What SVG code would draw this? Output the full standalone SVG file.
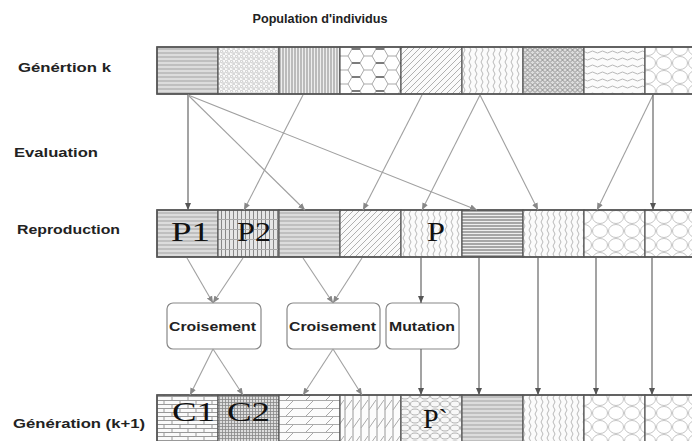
<svg xmlns="http://www.w3.org/2000/svg" width="692" height="441" viewBox="0 0 692 441">
<style>
.lbl{font-family:"Liberation Sans",Arial,sans-serif;font-weight:bold;font-size:13.5px;fill:#222}
.big{font-family:"Liberation Serif","Times New Roman",serif;font-size:27px;fill:#111}
.cell{stroke:#555;stroke-width:1.2}
.row{fill:none;stroke:#555;stroke-width:1.6}
.box{fill:#fff;stroke:#888;stroke-width:1.2}
.c{stroke:#a0a0a0;stroke-width:1.1;fill:none;marker-end:url(#ah)}
.cd{stroke:#666;stroke-width:1.2;fill:none;marker-end:url(#ahd)}
</style>
<defs>
<marker id="ah" markerWidth="8" markerHeight="8" refX="7" refY="4" orient="auto" markerUnits="userSpaceOnUse"><path d="M0,1 L7,4 L0,7 Z" fill="#888"/></marker>
<marker id="ahd" markerWidth="8" markerHeight="8" refX="7" refY="4" orient="auto" markerUnits="userSpaceOnUse"><path d="M0,1 L7,4 L0,7 Z" fill="#555"/></marker>
<pattern id="hl" width="8" height="4" patternUnits="userSpaceOnUse"><rect width="8" height="4" fill="#f4f4f4"/><path d="M0,1 H8" stroke="#8a8a8a" stroke-width="1"/><path d="M0,3 H8" stroke="#c4c4c4" stroke-width="1"/></pattern>
<pattern id="hld" width="8" height="3" patternUnits="userSpaceOnUse"><rect width="8" height="3" fill="#eee"/><path d="M0,1 H8" stroke="#777" stroke-width="1.2"/></pattern>
<pattern id="vl" width="3" height="4" patternUnits="userSpaceOnUse"><rect width="3" height="4" fill="#eee"/><path d="M1,0 V4" stroke="#888" stroke-width="1"/></pattern>
<pattern id="vlh" width="4" height="10" patternUnits="userSpaceOnUse"><rect width="4" height="10" fill="#e6e6e6"/><path d="M1.5,0 V10" stroke="#888" stroke-width="1"/><path d="M0,9.5 H4" stroke="#aaa" stroke-width="1"/></pattern>
<pattern id="dots" width="5" height="5" patternUnits="userSpaceOnUse"><rect width="5" height="5" fill="#fafafa"/><circle cx="1.5" cy="1.5" r="1.2" fill="none" stroke="#bbb" stroke-width="0.8"/><circle cx="4" cy="4" r="1.2" fill="none" stroke="#bbb" stroke-width="0.8"/></pattern>
<pattern id="diam" width="5" height="5" patternUnits="userSpaceOnUse"><rect width="5" height="5" fill="#ddd"/><path d="M0,2.5 L2.5,0 L5,2.5 L2.5,5 Z" fill="none" stroke="#888" stroke-width="0.9"/></pattern>
<pattern id="hex" width="24" height="14" patternUnits="userSpaceOnUse"><rect width="24" height="14" fill="#fff"/><path d="M0,7 L4,0 H12 L16,7 L12,14 H4 Z M16,7 H24" fill="none" stroke="#aaa" stroke-width="1"/><path d="M16,7 H24" stroke="#666" stroke-width="1.6"/></pattern>
<pattern id="diag" width="6" height="6" patternUnits="userSpaceOnUse"><rect width="6" height="6" fill="#fafafa"/><path d="M-1,7 L7,-1 M-4,4 L4,-4 M2,10 L10,2" stroke="#a8a8a8" stroke-width="0.9"/></pattern>
<pattern id="vw" width="6" height="8" patternUnits="userSpaceOnUse"><rect width="6" height="8" fill="#fbfbfb"/><path d="M2,0 Q4,2 2,4 Q0,6 2,8" fill="none" stroke="#b0b0b0" stroke-width="0.9"/></pattern>
<pattern id="hw" width="10" height="7" patternUnits="userSpaceOnUse"><rect width="10" height="7" fill="#fbfbfb"/><path d="M0,3 Q2.5,1 5,3 T10,3" fill="none" stroke="#b0b0b0" stroke-width="0.9"/></pattern>
<pattern id="circ" width="16" height="14" patternUnits="userSpaceOnUse"><rect width="16" height="14" fill="#fff"/><ellipse cx="8" cy="7" rx="7.5" ry="6.5" fill="none" stroke="#bdbdbd" stroke-width="0.9"/></pattern>
<pattern id="ell" width="10" height="8" patternUnits="userSpaceOnUse"><rect width="10" height="8" fill="#f8f8f8"/><ellipse cx="5" cy="4" rx="4.5" ry="3" fill="none" stroke="#aaa" stroke-width="0.9"/></pattern>
<pattern id="brick" width="16" height="8" patternUnits="userSpaceOnUse"><rect width="16" height="8" fill="#fafafa"/><path d="M0,0.5 H16 M0,4.5 H16 M4,0.5 V4.5 M12,4.5 V8" stroke="#999" stroke-width="1"/></pattern>
<pattern id="grid" width="3" height="3" patternUnits="userSpaceOnUse"><rect width="3" height="3" fill="#ddd"/><path d="M0.5,0 V3 M0,0.5 H3" stroke="#888" stroke-width="0.8"/></pattern>
<pattern id="hdash" width="20" height="8" patternUnits="userSpaceOnUse"><rect width="20" height="8" fill="#fcfcfc"/><path d="M0,0.5 H20" stroke="#aaa" stroke-width="1"/><path d="M6,8 L14,0" stroke="#aaa" stroke-width="1"/></pattern>
<pattern id="vdash" width="8" height="18" patternUnits="userSpaceOnUse"><rect width="8" height="18" fill="#fcfcfc"/><path d="M1,0 V18" stroke="#999" stroke-width="1"/><path d="M1,14 L8,4" stroke="#aaa" stroke-width="1"/></pattern>
</defs>

<text class="lbl" x="320" y="23" text-anchor="middle" font-size="13" textLength="135" lengthAdjust="spacingAndGlyphs">Population d'individus</text>
<text class="lbl" x="18" y="72" textLength="93" lengthAdjust="spacingAndGlyphs">Génértion k</text>
<text class="lbl" x="14" y="157" textLength="84" lengthAdjust="spacingAndGlyphs">Evaluation</text>
<text class="lbl" x="17" y="234" textLength="103" lengthAdjust="spacingAndGlyphs">Reproduction</text>
<text class="lbl" x="13" y="428" textLength="132" lengthAdjust="spacingAndGlyphs">Génération (k+1)</text>

<g id="gen-k">
<rect class="cell" x="157" y="47" width="61" height="47" fill="url(#hl)"/>
<rect class="cell" x="218" y="47" width="61" height="47" fill="url(#dots)"/>
<rect class="cell" x="279" y="47" width="61" height="47" fill="url(#vl)"/>
<rect class="cell" x="340" y="47" width="61" height="47" fill="url(#hex)"/>
<rect class="cell" x="401" y="47" width="61" height="47" fill="url(#diag)"/>
<rect class="cell" x="462" y="47" width="61" height="47" fill="url(#vw)"/>
<rect class="cell" x="523" y="47" width="61" height="47" fill="url(#diam)"/>
<rect class="cell" x="584" y="47" width="61" height="47" fill="url(#hw)"/>
<rect class="cell" x="645" y="47" width="61" height="47" fill="url(#circ)"/>
<rect class="row" x="157" y="47" width="549" height="47"/>
</g>

<g id="reproduction">
<rect class="cell" x="157" y="210" width="61" height="47" fill="url(#hl)"/>
<rect class="cell" x="218" y="210" width="61" height="47" fill="url(#vlh)"/>
<rect class="cell" x="279" y="210" width="61" height="47" fill="url(#hl)"/>
<rect class="cell" x="340" y="210" width="61" height="47" fill="url(#diag)"/>
<rect class="cell" x="401" y="210" width="61" height="47" fill="url(#vw)"/>
<rect class="cell" x="462" y="210" width="61" height="47" fill="url(#hld)"/>
<rect class="cell" x="523" y="210" width="61" height="47" fill="url(#vw)"/>
<rect class="cell" x="584" y="210" width="61" height="47" fill="url(#circ)"/>
<rect class="cell" x="645" y="210" width="61" height="47" fill="url(#circ)"/>
<rect class="row" x="157" y="210" width="549" height="47"/>
<text class="big" x="171" y="241" textLength="39" lengthAdjust="spacingAndGlyphs">P1</text>
<text class="big" x="237" y="241" textLength="34" lengthAdjust="spacingAndGlyphs">P2</text>
<text class="big" x="427" y="241" textLength="18" lengthAdjust="spacingAndGlyphs">P</text>
</g>

<g id="croisement1">
<rect class="box" x="167" y="303" width="94" height="46" rx="6"/>
<text class="lbl" x="169" y="331" textLength="87" lengthAdjust="spacingAndGlyphs">Croisement</text>
</g>
<g id="croisement2">
<rect class="box" x="287" y="303" width="93" height="46" rx="6"/>
<text class="lbl" x="289" y="331" textLength="87" lengthAdjust="spacingAndGlyphs">Croisement</text>
</g>
<g id="mutation">
<rect class="box" x="386" y="303" width="73" height="46" rx="6"/>
<text class="lbl" x="389" y="331" textLength="66" lengthAdjust="spacingAndGlyphs">Mutation</text>
</g>

<g id="gen-k1">
<rect class="cell" x="157" y="395" width="61" height="48" fill="url(#brick)"/>
<rect class="cell" x="218" y="395" width="61" height="48" fill="url(#grid)"/>
<rect class="cell" x="279" y="395" width="61" height="48" fill="url(#hdash)"/>
<rect class="cell" x="340" y="395" width="61" height="48" fill="url(#vdash)"/>
<rect class="cell" x="401" y="395" width="61" height="48" fill="url(#ell)"/>
<rect class="cell" x="462" y="395" width="61" height="48" fill="url(#hl)"/>
<rect class="cell" x="523" y="395" width="61" height="48" fill="url(#vw)"/>
<rect class="cell" x="584" y="395" width="61" height="48" fill="url(#circ)"/>
<rect class="cell" x="645" y="395" width="61" height="48" fill="url(#circ)"/>
<rect class="row" x="157" y="395" width="549" height="48"/>
<text class="big" x="172" y="421" textLength="43" lengthAdjust="spacingAndGlyphs">C1</text>
<text class="big" x="227" y="421" textLength="43" lengthAdjust="spacingAndGlyphs">C2</text>
<text class="big" x="423" y="428" style="font-size:28px">P`</text>
</g>

<g id="connectors">
<line class="cd" x1="188" y1="95" x2="188" y2="210"/>
<line class="c" x1="188" y1="95" x2="305" y2="210"/>
<line class="c" x1="188" y1="95" x2="477" y2="210"/>
<line class="c" x1="303" y1="95" x2="244" y2="210"/>
<line class="c" x1="422" y1="95" x2="363" y2="210"/>
<line class="c" x1="480" y1="95" x2="422" y2="210"/>
<line class="c" x1="480" y1="95" x2="538" y2="210"/>
<line class="c" x1="653" y1="95" x2="597" y2="210"/>
<line class="cd" x1="653" y1="95" x2="653" y2="210"/>
<line class="c" x1="187" y1="258" x2="213" y2="303"/>
<line class="c" x1="243" y1="258" x2="213" y2="303"/>
<line class="c" x1="303" y1="258" x2="333" y2="303"/>
<line class="c" x1="362" y1="258" x2="333" y2="303"/>
<line class="cd" x1="421" y1="258" x2="421" y2="303"/>
<line class="c" x1="213" y1="349" x2="190" y2="395"/>
<line class="c" x1="213" y1="349" x2="243" y2="395"/>
<line class="c" x1="333" y1="349" x2="303" y2="395"/>
<line class="c" x1="333" y1="349" x2="362" y2="395"/>
<line class="cd" x1="421" y1="349" x2="421" y2="395"/>
<line class="cd" x1="479" y1="258" x2="479" y2="395"/>
<line class="cd" x1="538" y1="258" x2="538" y2="395"/>
<line class="cd" x1="596" y1="258" x2="596" y2="395"/>
<line class="cd" x1="652" y1="258" x2="652" y2="395"/>
</g>
</svg>
